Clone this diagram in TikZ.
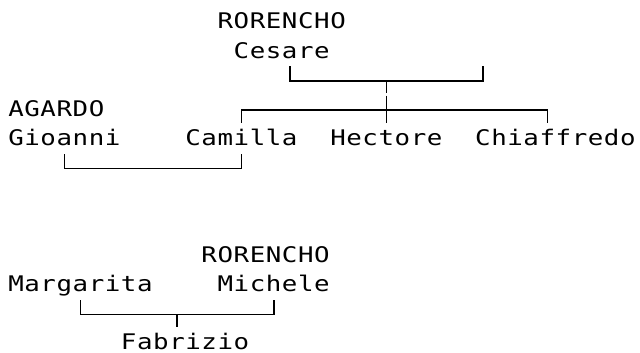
\documentclass[tikz,border=0pt]{standalone}
\usepackage{graphicx}
\usepackage{fontspec}
\newfontfamily\treefont{DejaVu Sans Mono}
% the reference text is a monospace grid, pitch 16.1, glyphs slightly stretched
\makeatletter
\newcommand\wide[1]{\@tfor\treech:=#1\do{\makebox[16.1pt][c]{\scalebox{1.2}[1]{\treech}}}}
\makeatother
% column left edge, column centre, baseline of row
\newcommand\colL[1]{8+16.1*#1}
\newcommand\colC[1]{16.05+16.1*#1}
\newcommand\rowB[1]{29+29.2*#1}
\begin{document}
\begin{tikzpicture}[x=1pt,y=-1pt,
  nm/.style={inner sep=0pt,outer sep=0pt,anchor=base west,font=\treefont\fontsize{21.5pt}{29pt}\selectfont,text=black},
  link/.style={draw=black,line width=1.7pt,line join=miter}]
\useasboundingbox (0,0) rectangle (640,353);
% names
\node[nm] (rorA) at ({\colL{13}},{\rowB{0}}) {\wide{RORENCHO}};
\node[nm] (cesare) at ({\colL{14}},{\rowB{1}}) {\wide{Cesare}};
\node[nm] (agardo) at ({\colL{0}},{\rowB{3}}) {\wide{AGARDO}};
\node[nm] (gioanni) at ({\colL{0}},{\rowB{4}}) {\wide{Gioanni}};
\node[nm] (camilla) at ({\colL{11}},{\rowB{4}}) {\wide{Camilla}};
\node[nm] (hectore) at ({\colL{20}},{\rowB{4}}) {\wide{Hectore}};
\node[nm] (chiaf) at ({\colL{29}},{\rowB{4}}) {\wide{Chiaffredo}};
\node[nm] (rorB) at ({\colL{12}},{\rowB{8}}) {\wide{RORENCHO}};
\node[nm] (margarita) at ({\colL{0}},{\rowB{9}}) {\wide{Margarita}};
\node[nm] (michele) at ({\colL{13}},{\rowB{9}}) {\wide{Michele}};
\node[nm] (fabrizio) at ({\colL{7}},{\rowB{11}-0.5}) {\wide{Fabrizio}};
% row 2 junction (Cesare and spouse)
\coordinate (aLt) at ({\colC{17}},{\rowB{2}-21});
\coordinate (aLh) at ({\colC{17}},{\rowB{2}-6.5});
\coordinate (aRt) at ({\colC{29}},{\rowB{2}-21});
\coordinate (aRh) at ({\colC{29}},{\rowB{2}-6.5});
\coordinate (aMh) at ({\colC{23}},{\rowB{2}-6.5});
\coordinate (aMb) at ({\colC{23}},{\rowB{2}+6});
% row 3 children bar
\coordinate (bMt) at ({\colC{23}},{\rowB{3}-21});
\coordinate (bMb) at ({\colC{23}},{\rowB{3}+6});
\coordinate (bLh) at ({\colC{14}},{\rowB{3}-6.5});
\coordinate (bLb) at ({\colC{14}},{\rowB{3}+6});
\coordinate (bRh) at ({\colC{33}},{\rowB{3}-6.5});
\coordinate (bRb) at ({\colC{33}},{\rowB{3}+6});
% row 5 marriage Gioanni - Camilla
\coordinate (cLt) at ({\colC{3}},{\rowB{5}-21});
\coordinate (cLh) at ({\colC{3}},{\rowB{5}-6.5});
\coordinate (cRt) at ({\colC{14}},{\rowB{5}-21});
\coordinate (cRh) at ({\colC{14}},{\rowB{5}-6.5});
% row 10 Margarita - Michele -> Fabrizio
\coordinate (dLt) at ({\colC{4}},{\rowB{10}-21});
\coordinate (dLh) at ({\colC{4}},{\rowB{10}-6.5});
\coordinate (dRt) at ({\colC{16}},{\rowB{10}-21});
\coordinate (dRh) at ({\colC{16}},{\rowB{10}-6.5});
\coordinate (dMh) at ({\colC{10}},{\rowB{10}-6.5});
\coordinate (dMb) at ({\colC{10}},{\rowB{10}+6});
% connectors
\draw[link] (aLt) -- (aLh) -- (aRh) -- (aRt);
\draw[link] (aMh) -- (aMb);
\draw[link] (bMt) -- (bMb);
\draw[link] (bLb) -- (bLh) -- (bRh) -- (bRb);
\draw[link] (cLt) -- (cLh) -- (cRh) -- (cRt);
\draw[link] (dLt) -- (dLh) -- (dRh) -- (dRt);
\draw[link] (dMh) -- (dMb);
\end{tikzpicture}
\end{document}
